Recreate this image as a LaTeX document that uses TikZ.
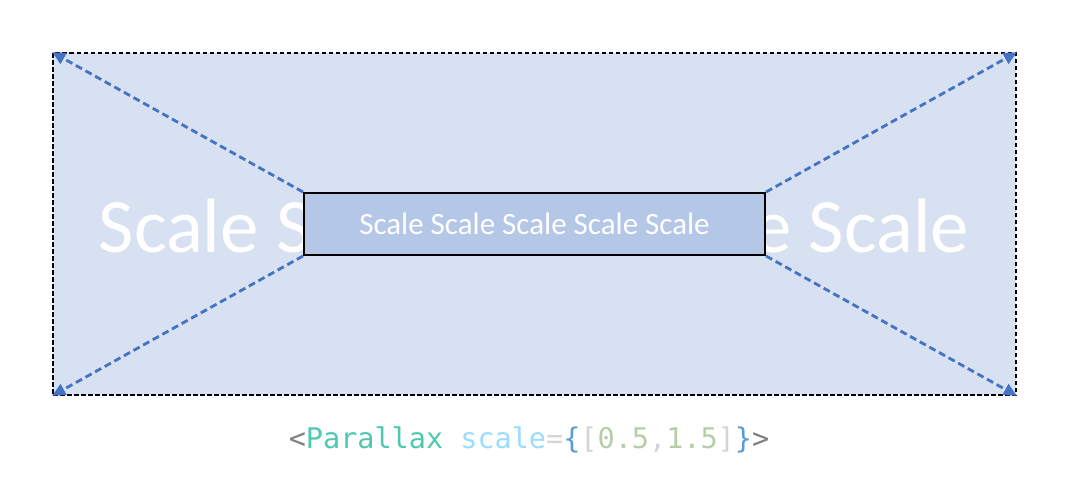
\documentclass[tikz,border=0pt]{standalone}
\usepackage{fontspec}
\setmainfont{Carlito}
\newfontfamily\codefont{DejaVu Sans Mono}
\usetikzlibrary{arrows.meta}
\definecolor{outerfill}{HTML}{D7E1F2}
\definecolor{innerfill}{HTML}{B4C7E7}
\definecolor{arrowblue}{HTML}{4472C4}
\definecolor{cgray}{HTML}{808080}
\definecolor{cteal}{HTML}{4EC9B0}
\definecolor{cattr}{HTML}{9CDCFE}
\definecolor{clight}{HTML}{D4D4D4}
\definecolor{cbrace}{HTML}{569CD6}
\definecolor{cnum}{HTML}{B5CEA8}
\tikzset{
  outerbox/.style={draw=black, fill=outerfill, line width=1.5pt, dash pattern=on 4.5pt off 2.5pt},
  innerbox/.style={draw=black, fill=innerfill, line width=2pt, minimum width=461pt, minimum height=62pt, inner sep=0pt},
  scalearrow/.style={draw=arrowblue, line width=2.8pt, dash pattern=on 7pt off 4pt, -{Triangle[length=13pt,width=12pt]}},
}
\begin{document}
\begin{tikzpicture}[x=1pt,y=-1pt]
\useasboundingbox (0,0) rectangle (1069,491);
\node[outerbox, minimum width=963pt, minimum height=342pt, inner sep=0pt] (outer) at (534.5,224) {};
\node[text=white, font=\fontsize{77}{80}\selectfont] (bigtext) at (534,226) {Scale Scale Scale Scale Scale};
\node[innerbox] (inner) at (534.5,224) {};
\node[text=white, font=\fontsize{31}{34}\selectfont] (innertext) at (534.5,224) {Scale Scale Scale Scale Scale};
\draw[scalearrow] (inner.north west) -- (outer.north west);
\draw[scalearrow] (inner.north east) -- (outer.north east);
\draw[scalearrow] (inner.south west) -- (outer.south west);
\draw[scalearrow] (inner.south east) -- (outer.south east);
\node[font=\codefont\fontsize{28.5}{32}\selectfont, inner sep=0pt] (code) at (529,440)
  {\textcolor{cgray}{<}\textcolor{cteal}{Parallax} \textcolor{cattr}{scale}\textcolor{clight}{=}\textcolor{cbrace}{\{}\textcolor{clight}{[}\textcolor{cnum}{0.5}\textcolor{clight}{,}\textcolor{cnum}{1.5}\textcolor{clight}{]}\textcolor{cbrace}{\}}\textcolor{cgray}{>}};
\end{tikzpicture}
\end{document}
